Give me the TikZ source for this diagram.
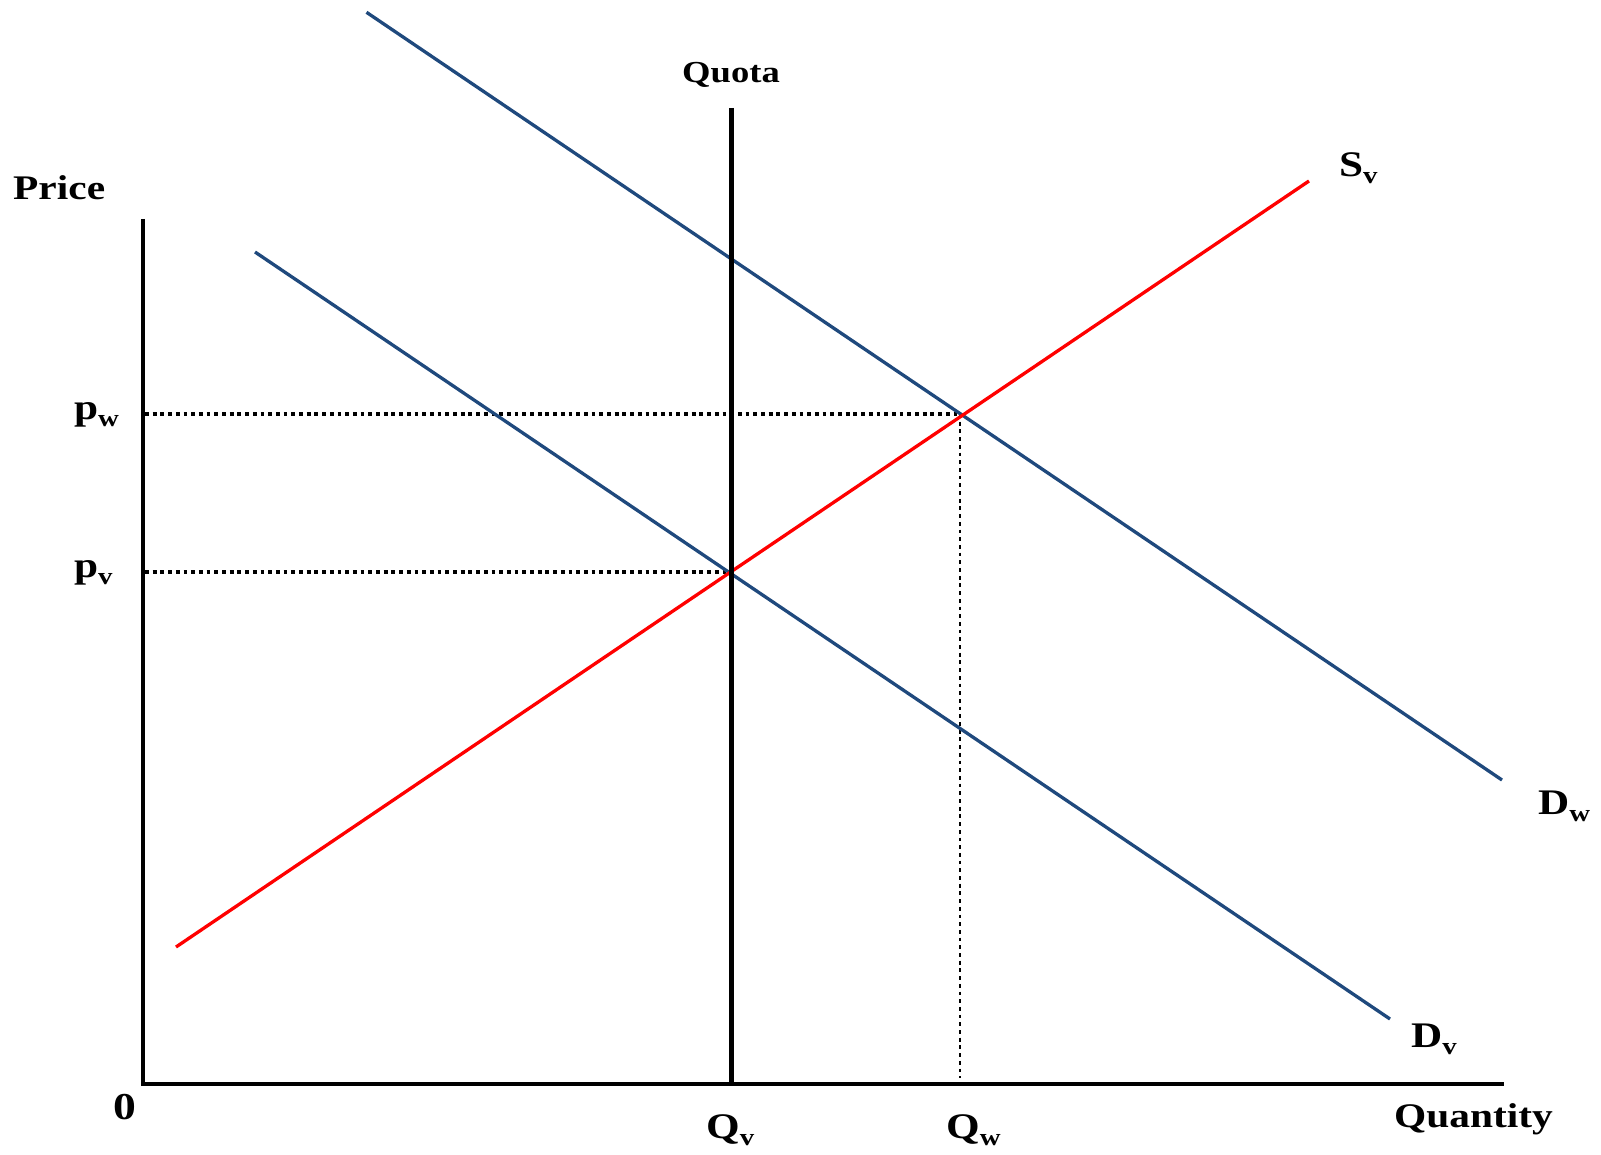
\documentclass[tikz,border=0pt]{standalone}
\usepackage{fontspec}
\setmainfont{Liberation Serif}[FakeStretch=1.2]
\definecolor{dblue}{RGB}{31,73,125}
\definecolor{lred}{RGB}{255,0,0}
\newcommand{\sbig}{\fontsize{36}{42}\selectfont\bfseries}
\newcommand{\smid}{\fontsize{34.5}{40}\selectfont\bfseries}
\newcommand{\ssmall}{\fontsize{30.5}{36}\selectfont\bfseries}
\newcommand{\mysub}[1]{\raisebox{-7pt}{\fontsize{24}{27}\selectfont\bfseries #1}}
\begin{document}
\begin{tikzpicture}[x=1pt,y=-1pt,
  axis/.style={line width=4.5pt,black,line join=miter},
  quotaline/.style={line width=5pt,black},
  dem/.style={line width=3.3pt,dblue},
  sup/.style={line width=3.3pt,lred},
  dots/.style={line width=3.2pt,black,dash pattern=on 3.8pt off 3.9pt},
  vdots/.style={line width=2.7pt,black,dash pattern=on 3.8pt off 3.9pt},
  lbl/.style={inner sep=0pt,anchor=base west}]
\useasboundingbox (0,0) rectangle (1601,1155);
% coordinates
\coordinate (ytop) at (143,219);
\coordinate (O) at (143,1084);
\coordinate (xend) at (1504,1084);
\coordinate (qtop) at (731,108);
\coordinate (qbot) at (731,1084);
\coordinate (dwa) at (366.5,12.3);
\coordinate (dwb) at (1502,780);
\coordinate (dva) at (255,252);
\coordinate (dvb) at (1390,1019);
\coordinate (sva) at (176,947);
\coordinate (svb) at (1309,181);
\coordinate (ew) at (960,414);
\coordinate (ev) at (731,572);
\coordinate (pwa) at (145,414);
\coordinate (pva) at (145,572);
\coordinate (qwb) at (960,1078);
% dotted guides
\draw[dots] (pwa) -- (ew);
\draw[dots] (pva) -- (ev);
\draw[vdots] (ew) -- (qwb);
% curves
\draw[dem] (dwa) -- (dwb);
\draw[dem] (dva) -- (dvb);
\draw[sup] (sva) -- (svb);
% quota
\draw[quotaline] (qtop) -- (qbot);
% axes
\draw[axis] (ytop) -- (O) -- (xend);
% labels
\node[lbl] (price) at (13,200) {\smid Price};
\node[lbl] (quota) at (682,83) {\ssmall Quota};
\node[lbl] (quantity) at (1394,1127) {\smid Quantity};
\node[lbl] (zero) at (113,1119) {\fontsize{38}{44}\selectfont\bfseries 0};
\node[lbl] (pw) at (74,419) {\sbig p\mysub{w}};
\node[lbl] (pv) at (74,577) {\sbig p\mysub{v}};
\node[lbl] (qv) at (706,1138) {\sbig Q\mysub{v}};
\node[lbl] (qw) at (946,1138) {\sbig Q\mysub{w}};
\node[lbl] (sv) at (1339,177) {\sbig S\mysub{v}};
\node[lbl] (dw) at (1538,814) {\sbig D\mysub{w}};
\node[lbl] (dv) at (1411,1047) {\sbig D\mysub{v}};
\end{tikzpicture}
\end{document}
